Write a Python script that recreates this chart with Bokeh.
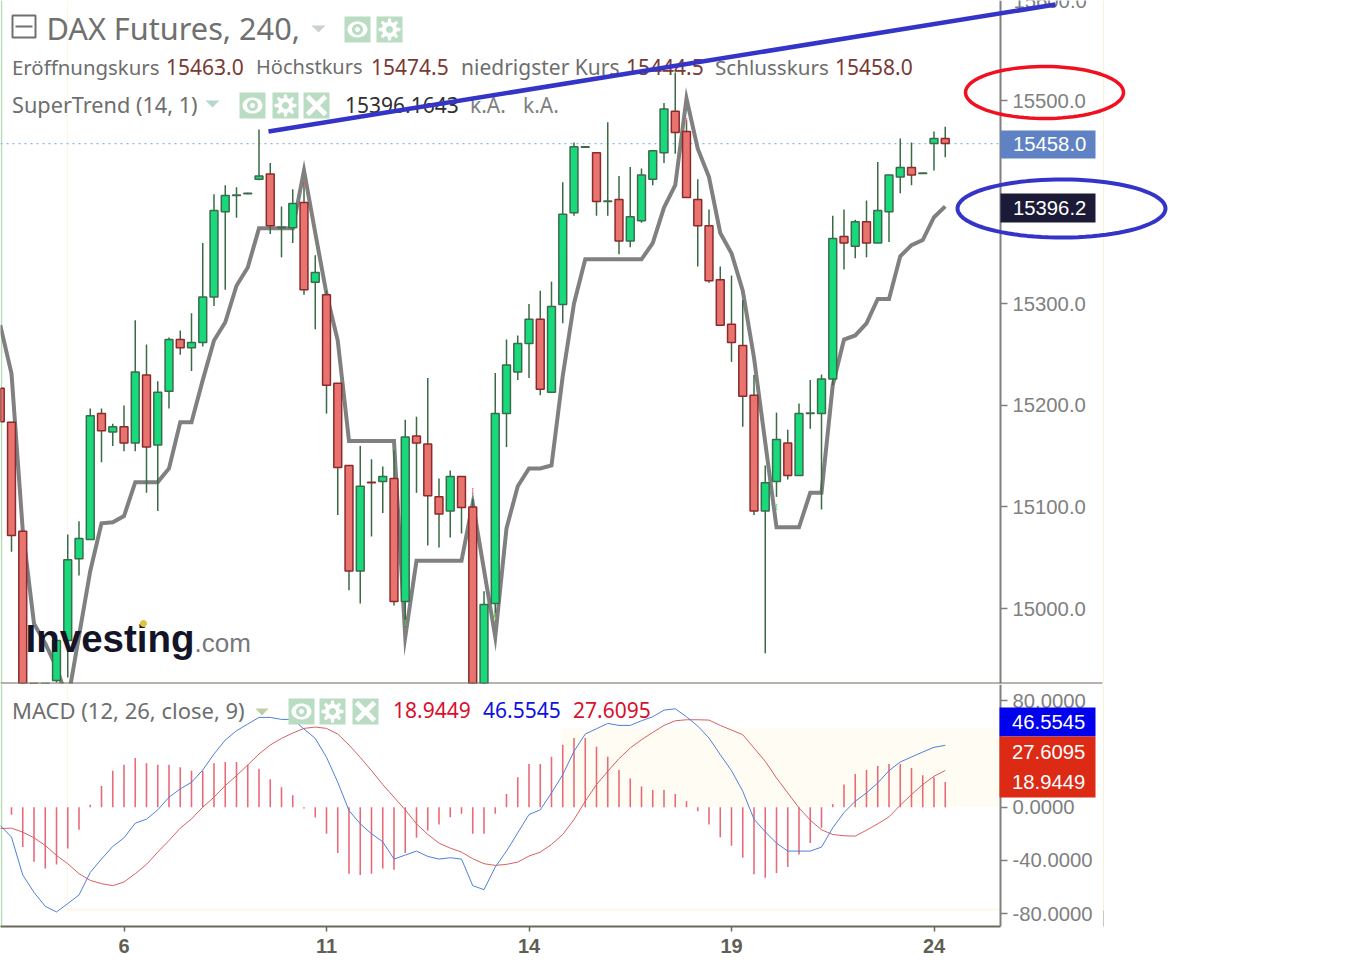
import numpy as np
from bokeh.embed import file_html
from bokeh.resources import INLINE
from bokeh.plotting import figure
from bokeh.layouts import column
from bokeh.models import (Range1d, FixedTicker, Label, PolyAnnotation, LinearAxis,
                          ColumnDataSource, NumeralTickFormatter)

# ---------------- data ----------------
candle_index = list(range(-1, 84))
opens = [15217,15183.5,15076,14905,14890,14929,14968.5,15049,15068,15192,15174,15179,15163,15230,15161,15214,15265,15257,15262,15307,15391,15407,15408.5,15423,15428,15375,15375,15400,15321.5,15309,15222,15141,15037,15124.5,15125,15128,15007,15170,15162,15110,15096,15130,15100,14905,15005,15192,15233,15261,15285,15213,15299.5,15390,15454.5,15449,15401,15403,15362,15382,15423,15449,15490,15470,15403,15377,15324,15280,15259,15210,15096,15125,15163,15131,15192,15192,15226,15366.5,15357,15381,15360,15391,15425,15434.5,15428.5,15458,15463]
highs = [15217,15184,15076,14920,14915,14965,15073,15086,15197,15197,15182,15200,15284,15260,15224,15267,15274,15291,15360,15408,15417,15415,15409.5,15472,15439,15396,15413,15420,15348,15313,15222,15141,15160,15147,15140,15156,15186,15189,15227,15128,15136,15130,15108,15017,15232,15265,15269,15300,15313,15322,15420,15459,15455.5,15449,15479,15426,15435,15433.5,15451.5,15498,15528,15481,15423,15393,15337,15328,15304,15230,15141,15193,15176,15202,15225,15230.5,15387,15393,15383,15402,15440,15427,15463,15459,15429.5,15470,15474.5]
lows = [15184,15056,14890,14880,14875,14927,14932,15032.5,15068,15144,15160,15155,15155,15114,15096,15197,15250,15234,15258,15298,15314,15385,15408,15422,15369,15346,15360,15309,15275,15192,15092,15018,15005,15071,15094,15003,14982,15114,15062,15060,15070,15074,14895,14895,14991,15159,15225,15227,15210,15213,15281,15387,15454,15387,15387,15349,15356,15380,15417,15439,15448,15405,15337,15321,15279,15243,15179,15092,14956,15110,15127,15131,15177,15097.5,15220,15334,15345,15346,15360,15361,15409,15417,15428,15431.5,15444.5]
closes = [15184,15072,14905,14890,14900,14968.5,15048,15069,15190,15175,15179,15163,15233,15159,15213,15265,15257,15262,15307,15392,15407,15407.5,15409,15426,15377,15375.5,15399,15314,15331,15220,15139,15037,15120.5,15124,15130,15007,15169,15163,15111,15093,15130,15099.5,14905,15004,15192,15240,15261,15285,15216,15297.5,15388.5,15455,15455,15401,15401.5,15362,15386,15427,15451,15492,15469,15405,15377,15323,15279,15262,15209,15096,15124,15166.5,15131,15192,15192.5,15226,15364.5,15360,15381,15360,15392,15427,15434.5,15427,15429,15463,15458]
supertrend = [15279,15231.5,15077,14985,14965.5,14942,14909,14973,15037,15084,15085,15091,15124.5,15124.5,15124.5,15138,15183.5,15183.5,15225,15264,15282,15318,15336,15374.5,15374.5,15374.5,15374.5,15431.5,15370,15310,15264,15165,15165,15165,15165,15165,14972,15047,15047,15047,15047,15047,15104,15038,14972,15079,15120.5,15138,15138,15141,15229,15300.5,15344,15344,15344,15344,15344,15344,15360,15395,15417,15502.5,15453,15425,15370,15350,15313,15247,15163.5,15080,15080,15080,15114,15114,15220,15265,15269,15281,15305,15305,15347,15358,15363,15385.5,15396.2]
sell_index = [26, 41, 60]
sell_price = [15417, 15116, 15480]
buy_index = [35, 43, 68]
buy_price = [14986, 14993, 15100]

macd_index = list(range(-1, 84))
macd_line = [-13.75,-22.5,-51,-64,-74.5,-78.75,-72.5,-66,-49,-39,-29.5,-23,-12,-9,-2,7.5,13.75,18.75,28,40,50.5,57.5,62.5,67.5,67.5,66,66,58.75,51.75,37.5,18.75,-2.5,-12.5,-20,-26,-39,-36,-33,-37,-39,-38,-39,-59,-62,-45,-33,-19.25,-5.5,-2,10.75,24.5,42,55,59,63,61.5,61.5,65,68,73,74,68,61,52,39.5,27.5,12,-9,-18.5,-27,-33,-33,-33,-30,-15.5,-4,4.5,10.75,18.25,27.5,34,37.75,41.5,45,46.5545]
signal_line = [-16,-15.75,-18.75,-23,-28.75,-36.25,-42.5,-50,-55,-57.5,-59,-56.25,-50,-43,-33.75,-25,-15.75,-8.75,0,7.5,16.25,23.75,31.75,40,46.75,51.75,55.75,59.25,60.25,59.25,55,46.75,37.5,27.5,17,7.5,-2,-12.5,-20.5,-27,-30.75,-33.75,-38.75,-42.5,-43.75,-43,-41.25,-36.75,-33.75,-28,-20.5,-9.25,4.5,17,27,36.5,44.5,50.75,56.25,61.5,65,65.75,65.75,65.5,61.5,58,54.5,44.5,34.5,22,10.75,-0.5,-9.75,-17,-20.5,-21.5,-21.75,-17.25,-12.5,-7.25,1.5,9.5,17,23.25,27.6095]
hist_index = list(range(0, 84))
hist_values = [-5.75,-30,-41,-46,-43,-31,-17,1.75,16,27.5,32,37,33,32,32,30,27.5,27.5,33,34,34,32,29,21,15,9,-1,-7.75,-20,-34.5,-50,-51,-50,-46,-47,-34.5,-23,-17.5,-13,-7.5,-5,-20,-20,-5,10,22.5,32.5,32.5,38,47,52,52,45.5,38,28,21.5,15.5,13,13,10,4.5,-3,-13,-22.5,-29,-38,-50.5,-53,-49.5,-45,-35.5,-27,-15.5,2.5,17,25,28,31,32.5,32.5,29.5,24,22.5,18.9449]

date_ticks = [10, 28, 46, 64, 82]
date_labels = ["6", "11", "14", "19", "24"]
price_ticks = [15000, 15100, 15200, 15300, 15400, 15500]
macd_ticks = [-80, -40, 0, 40, 80]

# ---------------- scales: picture pixel -> data ----------------
def X(px): return (np.asarray(px, dtype=float) - 11.0) / 11.25
def PY(py): return 15000 + (608.0 - np.asarray(py, dtype=float)) * 0.9852
def MY(py): return (806.7 - np.asarray(py, dtype=float)) / 1.33

FRAME_W = 1300
x_range = Range1d(float(X(0)), float(X(FRAME_W)))
TXT = "Noto Sans"
AXF = "Liberation Sans"

def base(height, frame_h, yr, bottom, ticks, fmt):
    f = figure(width=FRAME_W, height=height, frame_width=FRAME_W, frame_height=frame_h,
               x_range=x_range, y_range=yr, output_backend="svg", toolbar_location=None,
               y_axis_location=None, x_axis_location=None, min_border_left=0, min_border_top=0,
               min_border_right=0, min_border_bottom=bottom, outline_line_color=None,
               background_fill_color="white", border_fill_color="white")
    f.grid.visible = False
    ax = LinearAxis(fixed_location=float(X(1000)), ticker=FixedTicker(ticks=ticks),
                    formatter=NumeralTickFormatter(format=fmt),
                    axis_line_color="#808080", axis_line_width=2,
                    major_tick_line_color="#808080", major_tick_line_width=1.5,
                    major_tick_in=0, major_tick_out=7, minor_tick_line_color=None,
                    major_label_text_font=AXF, major_label_text_font_size="20.3px",
                    major_label_text_color="#808080", major_label_standoff=5)
    f.add_layout(ax, "right")
    return f

a = base(684, 683, Range1d(float(PY(683)), float(PY(0))), 1, price_ticks, "0.0")
b = base(278, 242, Range1d(float(MY(926)), float(MY(684))), 36, macd_ticks, "0.0000")
xa = LinearAxis(ticker=FixedTicker(ticks=date_ticks),
                major_label_overrides=dict(zip(date_ticks, date_labels)),
                bounds=(float(X(0)), float(X(1000))),
                axis_line_color="#6a6a5a", axis_line_width=2,
                major_tick_line_color="#6a6a5a", major_tick_line_width=1.5,
                major_tick_in=0, major_tick_out=5, minor_tick_line_color=None,
                major_label_text_font=AXF, major_label_text_font_size="20px",
                major_label_text_font_style="bold", major_label_text_color="#5f5f55",
                major_label_standoff=7)
b.add_layout(xa, "below")

def poly(f, to_y, xs, ys, fill=None, line=None, lw=1.0, level="overlay"):
    f.add_layout(PolyAnnotation(
        xs=[float(v) for v in X(xs)], ys=[float(v) for v in to_y(ys)],
        xs_units="data", ys_units="data",
        fill_color=fill or "white", fill_alpha=1 if fill else 0,
        line_color=line or "white", line_alpha=1 if line else 0, line_width=lw,
        level=level))

def text(f, to_y, px, py, s, size, color, font=TXT, style="normal"):
    f.add_layout(Label(x=float(X(px)), y=float(to_y(py)), text=s, text_font=font,
                       text_font_size=f"{size}px", text_color=color, text_font_style=style,
                       text_align="left", text_baseline="middle", level="overlay"))

def ellipse(f, to_y, cx, cy, rx, ry, color, lw):
    t = np.linspace(0, 2 * np.pi, 90)
    poly(f, to_y, cx + rx * np.cos(t), cy + ry * np.sin(t), line=color, lw=lw)

def circle_pts(cx, cy, r, n=28):
    t = np.linspace(0, 2 * np.pi, n)
    return cx + r * np.cos(t), cy + r * np.sin(t)

def icon(f, to_y, x0, y0, kind, size=26, bg="#b9dcc3"):
    poly(f, to_y, [x0, x0 + size, x0 + size, x0], [y0, y0, y0 + size, y0 + size], fill=bg)
    cx, cy = x0 + size / 2, y0 + size / 2
    if kind == "eye":
        xs, ys = circle_pts(cx, cy, 10); poly(f, to_y, xs, 0.8 * (ys - cy) + cy, fill="white")
        xs, ys = circle_pts(cx, cy, 5.5); poly(f, to_y, xs, ys, fill=bg)
        xs, ys = circle_pts(cx, cy, 2.5); poly(f, to_y, xs, ys, fill="white")
    elif kind == "gear":
        t = np.linspace(0, 2 * np.pi, 49)
        r = 7.5 + 3.5 * (np.cos(8 * t) > 0)
        poly(f, to_y, cx + r * np.cos(t), cy + r * np.sin(t), fill="white")
        xs, ys = circle_pts(cx, cy, 3.5); poly(f, to_y, xs, ys, fill=bg)
    else:
        d = 9
        poly(f, to_y, [cx - d, cx + d], [cy - d, cy + d], line="white", lw=5)
        poly(f, to_y, [cx - d, cx + d], [cy + d, cy - d], line="white", lw=5)

# faint scan artefacts
poly(a, PY, [1103, 1103], [0, 683], line="#f7f2d8", lw=1, level="underlay")
poly(a, PY, [67, 67], [0, 683], line="#fdf7e6", lw=1, level="underlay")
poly(a, PY, [1, 1], [0, 683], line="#b7dcb7", lw=1.5, level="underlay")
poly(b, MY, [1103, 1103], [684, 910], line="#f7f2d8", lw=1, level="underlay")
poly(b, MY, [1103, 1103], [910, 962], line="#c8c8c0", lw=1, level="underlay")
poly(b, MY, [1, 1], [684, 962], line="#b7dcb7", lw=1.5, level="underlay")
poly(b, MY, [67, 67], [684, 910], line="#fdf7e6", lw=1, level="underlay")
poly(b, MY, [67, 1000], [909, 909], line="#fdf3e0", lw=1.5, level="underlay")
poly(b, MY, [561, 1000, 1000, 561], [728, 728, 806, 806], fill="#fffcf3", level="underlay")

# ---------------- price panel ----------------
a.segment([float(X(0))], [15458], [float(X(1000))], [15458], line_color="#8fb4ea",
          line_width=1.2, line_dash="dotted")
a.line(candle_index, supertrend, line_color="#808080", line_width=4, line_join="miter")

is_up = [c >= o for o, c in zip(opens, closes)]
src = ColumnDataSource(dict(
    x=candle_index, low=lows, high=highs,
    top=[max(o, c) for o, c in zip(opens, closes)],
    bottom=[min(o, c) for o, c in zip(opens, closes)],
    fill=["#18d97b" if u else "#e8736f" for u in is_up],
    edge=["#3c6b4c" if u else "#8a2a2a" for u in is_up]))
a.segment("x", "low", "x", "high", source=src, line_color="#3a6b45", line_width=1.5)
a.vbar("x", width=0.7, top="top", bottom="bottom", source=src, fill_color="fill",
       line_color="edge", line_width=1.5)
a.text(sell_index, sell_price, text=["I"] * 3, text_color="#ef5a6a", text_font="Liberation Serif",
       text_font_size="9px", text_align="center", text_baseline="middle")
a.text(buy_index, buy_price, text=["I"] * 3, text_color="#5fd85f", text_font="Liberation Serif",
       text_font_size="9px", text_align="center", text_baseline="middle")

# header
poly(a, PY, [12, 35, 35, 12], [15, 15, 37, 37], line="#707070", lw=2)
poly(a, PY, [15, 32], [26, 26], line="#707070", lw=2)
text(a, PY, 46, 27.5, "DAX Futures, 240,", 30.7, "#707070")
poly(a, PY, [311, 325, 318], [25, 25, 32], fill="#c9d2cb")
icon(a, PY, 344, 16, "eye"); icon(a, PY, 376, 16, "gear")

GR, DR = "#6e6e6e", "#7a3a34"
text(a, PY, 11.5, 66, "Eröffnungskurs", 20.4, GR)
text(a, PY, 165.5, 66, "15463.0", 21, DR)
text(a, PY, 255.5, 66, "Höchstkurs", 20, GR)
text(a, PY, 370.5, 66, "15474.5", 21, DR)
text(a, PY, 460.5, 66, "niedrigster Kurs", 21, GR)
text(a, PY, 625.5, 66, "15444.5", 21, DR)
text(a, PY, 714.5, 66, "Schlusskurs", 20.6, GR)
text(a, PY, 834.5, 66, "15458.0", 21, DR)
text(a, PY, 11.5, 104, "SuperTrend (14, 1)", 21.7, GR)
poly(a, PY, [205, 219, 212], [100, 100, 107], fill="#b5d8c8")
icon(a, PY, 239, 92, "eye"); icon(a, PY, 272, 92, "gear"); icon(a, PY, 303, 92, "x")
text(a, PY, 344.5, 104, "15396.1643", 21, "#303030")
text(a, PY, 469.5, 104, "k.A.", 21, "#808080")
text(a, PY, 522.5, 104, "k.A.", 21, "#808080")

# logo
text(a, PY, 25, 638, "Investing", 38.5, "#141428", font=AXF, style="bold")
text(a, PY, 194, 642, ".com", 26, "#77777f", font=AXF)
xs, ys = circle_pts(143, 623, 3.5); poly(a, PY, xs, ys, fill="#e8c040")

# last-price tags and hand drawn marks
poly(a, PY, [1000, 1095, 1095, 1000], [130, 130, 158, 158], fill="#5f82c4")
text(a, PY, 1012.5, 143.5, "15458.0", 20.3, "white", font=AXF)
poly(a, PY, [1000, 1095, 1095, 1000], [193, 193, 222, 222], fill="#1b1b38")
text(a, PY, 1012.5, 207, "15396.2", 20.3, "white", font=AXF)
text(a, PY, 1013, 0, "15600.0", 20.3, "#808080", font=AXF)
poly(a, PY, [268, 1055], [131, 4], line="#3434c8", lw=4.5)
ellipse(a, PY, 1044, 92, 79, 26, "#f01020", 3.5)
ellipse(a, PY, 1061, 208, 104, 29, "#3434c8", 4)
poly(a, PY, [0, 1102], [683, 683], line="#6a6a5a", lw=2)

# ---------------- MACD panel ----------------
b.vbar(hist_index, width=0.14, top=[max(v, 0) for v in hist_values],
       bottom=[min(v, 0) for v in hist_values], fill_color="#e66a78", line_color=None)
b.line(macd_index, signal_line, line_color="#d86060", line_width=1)
b.line(macd_index, macd_line, line_color="#4f80d8", line_width=1)

text(b, MY, 11.5, 709.5, "MACD (12, 26, close, 9)", 22, GR)
poly(b, MY, [255, 268, 261.5], [708, 708, 715], fill="#bccfa8")
icon(b, MY, 288, 698, "eye"); icon(b, MY, 319, 698, "gear"); icon(b, MY, 352, 698, "x")
text(b, MY, 392.5, 709.5, "18.9449", 21, "#d8102e")
text(b, MY, 482.5, 709.5, "46.5545", 21, "#1010e0")
text(b, MY, 572.5, 709.5, "27.6095", 21, "#d8102e")

poly(b, MY, [999, 1095, 1095, 999], [707, 707, 736, 736], fill="#0000ee")
poly(b, MY, [999, 1095, 1095, 999], [736, 736, 797, 797], fill="#dc2a14")
text(b, MY, 1011.5, 721, "46.5545", 20.3, "white", font=AXF)
text(b, MY, 1011.5, 751, "27.6095", 20.3, "white", font=AXF)
text(b, MY, 1011.5, 781, "18.9449", 20.3, "white", font=AXF)

page = column(a, b, spacing=0)
open("out.html", "w").write(file_html(page, INLINE))
